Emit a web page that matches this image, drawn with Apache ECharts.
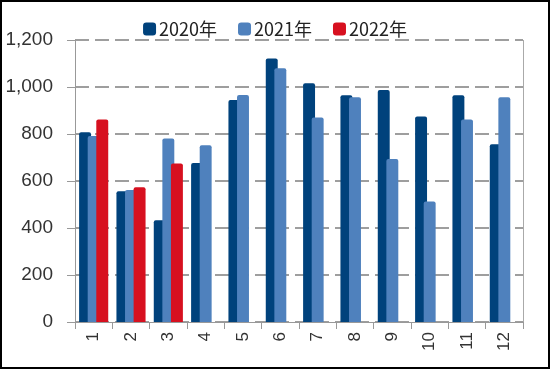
<!DOCTYPE html>
<html>
<head>
<meta charset="utf-8">
<script src="https://cdn.jsdelivr.net/npm/echarts@6/dist/echarts.min.js"></script>
<style>
html,body{margin:0;padding:0;background:#fff;}
#frame{position:absolute;left:0;top:0;width:550px;height:369px;box-sizing:border-box;border:2px solid #000;pointer-events:none;}
#chart{position:absolute;left:0;top:0;width:550px;height:369px;}
</style>
</head>
<body>
<div id="chart"></div>
<div id="frame"></div>
<script>
const categories = ['1','2','3','4','5','6','7','8','9','10','11','12'];
const seriesNames = ['2020年','2021年','2022年'];
const values2020 = [807, 556, 433, 677, 945, 1121, 1016, 965, 987, 875, 965, 756];
const values2021 = [791, 562, 781, 752, 966, 1080, 870, 956, 694, 513, 862, 956];
const values2022 = [862, 573, 675, '-', '-', '-', '-', '-', '-', '-', '-', '-'];
const yTicks = { min: 0, max: 1200, interval: 200 };
const colors = ['#00427c', '#4f81bd', '#d7101f'];

const chart = echarts.init(document.getElementById('chart'), null, {renderer: 'canvas'});
const mk = (name, data, color) => ({
  name, type: 'bar', data,
  barGap: '-28%', barCategoryGap: '22%',
  itemStyle: { color, borderRadius: [2, 2, 0, 0] },
  emphasis: { disabled: true }
});
chart.setOption({
  animation: false,
  color: colors,
  legend: {
    top: 15, left: 'center',
    itemWidth: 13, itemHeight: 13, itemGap: 21,
    icon: 'roundRect',
    textStyle: { fontFamily: 'Noto Sans CJK SC', fontSize: 18, color: '#222', padding: [0,0,0,-2] },
    data: seriesNames
  },
  grid: { left: 75, right: 27, top: 40, bottom: 47 },
  xAxis: {
    type: 'category', data: categories,
    axisLine: { lineStyle: { color: '#999', width: 1 } },
    axisTick: { show: true, length: 7, lineStyle: { color: '#999' } },
    axisLabel: { rotate: 90, margin: 10, fontFamily: 'Liberation Sans', fontSize: 17, color: '#333' }
  },
  yAxis: {
    type: 'value', min: yTicks.min, max: yTicks.max, interval: yTicks.interval,
    axisLine: { show: true, lineStyle: { color: '#999', width: 1 } },
    axisTick: { show: true, length: 8, lineStyle: { color: '#999' } },
    axisLabel: { margin: 22, fontFamily: 'Liberation Sans', fontSize: 19, color: '#333',
      formatter: v => v.toLocaleString('en-US') },
    splitLine: { show: true, lineStyle: { color: '#7f7f7f', width: 1.5, type: [14, 6] } }
  },
  graphic: [{
    type: 'line', z: 10,
    shape: { x1: 523.5, y1: 40, x2: 523.5, y2: 322 },
    style: { stroke: '#aaa', lineWidth: 1 }
  }],
  series: [mk(seriesNames[0], values2020, colors[0]), mk(seriesNames[1], values2021, colors[1]), mk(seriesNames[2], values2022, colors[2])]
});
</script>
</body>
</html>
